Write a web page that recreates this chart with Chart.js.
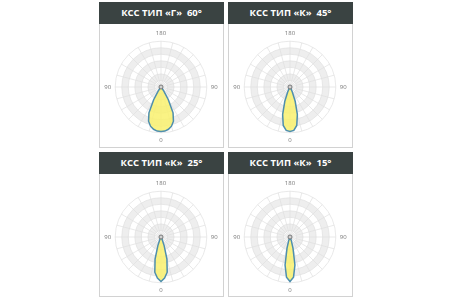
<!DOCTYPE html>
<html>
<head>
<meta charset="utf-8">
<script src="https://cdn.jsdelivr.net/npm/chart.js@4"></script>
<style>
    body { margin: 0; width: 450px; height: 300px; background: #fff; position: relative; overflow: hidden; font-family: "Open Sans", sans-serif; }
    .panel { position: absolute; width: 125px; }
    .head { height: 22px; background: #3a4342; color: #fff; font-weight: bold; font-size: 9.5px; line-height: 22px; text-align: center; white-space: pre; }
    .box { border: 1px solid #d2d2d2; border-top: none; box-sizing: border-box; }
    canvas { display: block; }
</style>
</head>
<body>
<div class="panel" style="left:99px;top:2px"><div class="head" id="t0"></div><div class="box" style="height:124px"><canvas id="c0" width="123" height="123"></canvas></div></div>
<div class="panel" style="left:228px;top:2px"><div class="head" id="t1"></div><div class="box" style="height:124px"><canvas id="c1" width="123" height="123"></canvas></div></div>
<div class="panel" style="left:99px;top:152px"><div class="head" id="t2"></div><div class="box" style="height:123px"><canvas id="c2" width="123" height="122"></canvas></div></div>
<div class="panel" style="left:228px;top:152px"><div class="head" id="t3"></div><div class="box" style="height:123px"><canvas id="c3" width="123" height="122"></canvas></div></div>
<script>
// angle from nadir, degrees (5° step)
const gamma = [0, 5, 10, 15, 20, 25, 30, 35, 40, 45, 50, 55, 60, 65, 70, 75, 80, 85, 90,
    95, 100, 105, 110, 115, 120, 125, 130, 135, 140, 145, 150, 155, 160, 165, 170, 175, 180];

const titles = ['КСС ТИП «Г»  60°', 'КСС ТИП «К»  45°', 'КСС ТИП «К»  25°', 'КСС ТИП «К»  15°'];

// intensity per gamma, same order as gamma
const typeG60 = [340, 338, 328, 310, 278, 218, 112, 38, 10, 0, 0, 0, 0, 0, 0, 0, 0, 0, 0,
    0, 0, 0, 0, 0, 0, 0, 0, 0, 0, 0, 0, 0, 0, 0, 0, 0, 0];
const typeK45 = [340, 333, 298, 217, 116, 42, 10, 0, 0, 0, 0, 0, 0, 0, 0, 0, 0, 0, 0,
    0, 0, 0, 0, 0, 0, 0, 0, 0, 0, 0, 0, 0, 0, 0, 0, 0, 0];
const typeK25 = [340, 315, 273, 175, 70, 21, 0, 0, 0, 0, 0, 0, 0, 0, 0, 0, 0, 0, 0,
    0, 0, 0, 0, 0, 0, 0, 0, 0, 0, 0, 0, 0, 0, 0, 0, 0, 0];
const typeK15 = [340, 308, 217, 88, 28, 0, 0, 0, 0, 0, 0, 0, 0, 0, 0, 0, 0, 0, 0,
    0, 0, 0, 0, 0, 0, 0, 0, 0, 0, 0, 0, 0, 0, 0, 0, 0, 0];

const rMax = 350;
const rStep = 50;
const shownLabels = ['0', '90', '180'];
const grayRings = [[50, 100], [150, 200], [250, 300]];

// radar goes clockwise from the top: 180 .. 0 on the right, 5 .. 175 on the left
function around(arr) {
    return arr.slice().reverse().concat(arr.slice(1, arr.length - 1));
}

const bandsPlugin = {
    id: 'bands',
    beforeDraw(chart) {
        const s = chart.scales.r, ctx = chart.ctx;
        ctx.save();
        ctx.fillStyle = '#eeeeee';
        grayRings.forEach(([a, b]) => {
            ctx.beginPath();
            ctx.arc(s.xCenter, s.yCenter, s.getDistanceFromCenterForValue(b), 0, Math.PI * 2);
            ctx.arc(s.xCenter, s.yCenter, s.getDistanceFromCenterForValue(a), 0, Math.PI * 2, true);
            ctx.fill();
        });
        ctx.restore();
    },
    afterDatasetsDraw(chart) {
        const s = chart.scales.r, ctx = chart.ctx;
        ctx.save();
        ctx.beginPath();
        ctx.arc(s.xCenter, s.yCenter, 2, 0, Math.PI * 2);
        ctx.fillStyle = '#d0d0d0';
        ctx.fill();
        ctx.lineWidth = 0.8;
        ctx.strokeStyle = '#666';
        ctx.stroke();
        ctx.restore();
    }
};

function makeChart(id, values) {
    new Chart(document.getElementById(id), {
        type: 'radar',
        data: {
            labels: around(gamma.map(String)),
            datasets: [{
                data: around(values),
                backgroundColor: 'rgba(249,241,110,0.85)',
                borderColor: '#4f8fae',
                borderWidth: 1.5,
                pointRadius: 0,
                fill: true
            }]
        },
        options: {
            responsive: false,
            animation: false,
            plugins: { legend: { display: false }, tooltip: { enabled: false } },
            layout: { padding: { top: 6, bottom: 2, left: 4, right: 4 } },
            scales: {
                r: {
                    min: 0,
                    max: rMax,
                    ticks: { stepSize: rStep, display: false },
                    grid: { circular: true, color: '#e0e0e0', lineWidth: 0.7 },
                    angleLines: { color: c => c.index % 3 === 0 ? '#e0e0e0' : 'rgba(0,0,0,0)', lineWidth: 0.7 },
                    pointLabels: {
                        callback: l => shownLabels.includes(l) ? l : '',
                        font: { size: 6, family: 'Open Sans' },
                        color: '#777',
                        padding: 4
                    }
                }
            }
        },
        plugins: [bandsPlugin]
    });
}

titles.forEach((t, i) => { document.getElementById('t' + i).textContent = t; });
makeChart('c0', typeG60);
makeChart('c1', typeK45);
makeChart('c2', typeK25);
makeChart('c3', typeK15);
</script>
</body>
</html>
